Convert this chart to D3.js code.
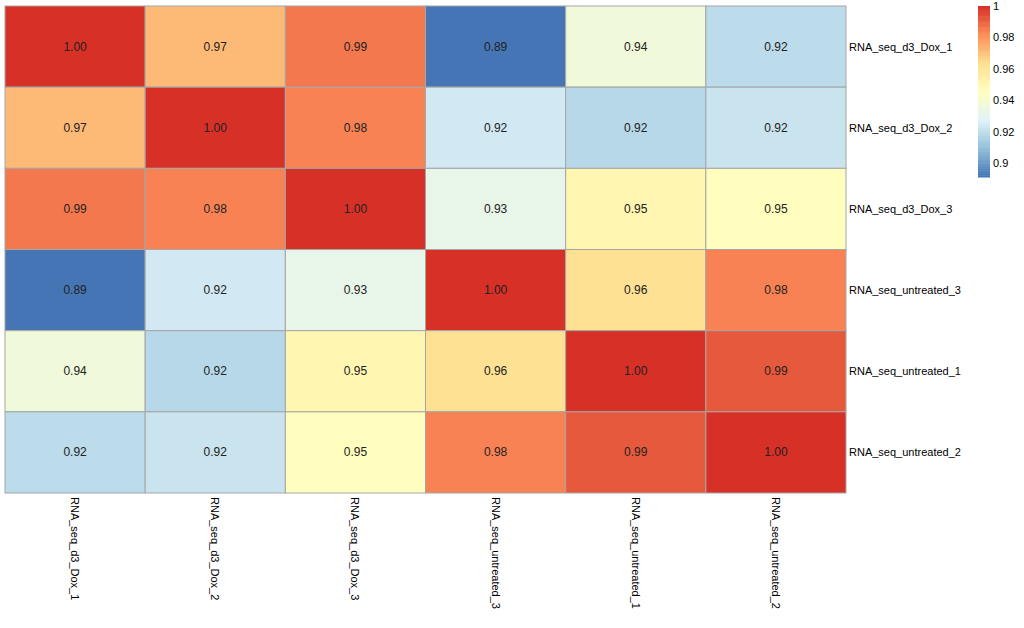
<!DOCTYPE html>
<html><head><meta charset="utf-8">
<script src="https://cdn.jsdelivr.net/npm/d3@7"></script>
<style>body{margin:0;background:#fff}svg{display:block}</style>
</head><body><svg id="c" width="1024" height="628"></svg>
<script>
const samples = ["RNA_seq_d3_Dox_1","RNA_seq_d3_Dox_2","RNA_seq_d3_Dox_3","RNA_seq_untreated_3","RNA_seq_untreated_1","RNA_seq_untreated_2"];
const row1 = [1.000, 0.972, 0.986, 0.891, 0.937, 0.919];
const row2 = [0.972, 1.000, 0.984, 0.924, 0.918, 0.922];
const row3 = [0.986, 0.984, 1.000, 0.932, 0.951, 0.946];
const row4 = [0.891, 0.924, 0.932, 1.000, 0.963, 0.984];
const row5 = [0.937, 0.918, 0.951, 0.963, 1.000, 0.992];
const row6 = [0.919, 0.922, 0.946, 0.984, 0.992, 1.000];
const matrix = [row1,row2,row3,row4,row5,row6];
const legendTicks = [0.9, 0.92, 0.94, 0.96, 0.98, 1];
const palette = ["#4575B4","#91BFDB","#E0F3F8","#FFFFBF","#FEE090","#FC8D59","#D73027"];

const svg = d3.select("#c");
const vmin = d3.min(matrix.flat()), vmax = d3.max(matrix.flat());
const stops = palette.map((_, i) => vmin + (vmax - vmin) * i / (palette.length - 1));
const color = d3.scaleLinear().domain(stops).range(palette).interpolate(d3.interpolateRgb);

const x = d3.scaleBand().domain(samples).range([5, 846]);
const y = d3.scaleBand().domain(samples).range([6, 493]);

const cells = [];
matrix.forEach((r, i) => r.forEach((v, j) => cells.push({row: samples[i], col: samples[j], v})));

const g = svg.append("g");
g.selectAll("rect").data(cells).join("rect")
  .attr("x", d => x(d.col)).attr("y", d => y(d.row))
  .attr("width", x.bandwidth()).attr("height", y.bandwidth())
  .attr("fill", d => color(d.v)).attr("stroke", "#a6a6a6").attr("stroke-width", 1);
g.selectAll("text").data(cells).join("text")
  .attr("x", d => x(d.col) + x.bandwidth()/2).attr("y", d => y(d.row) + y.bandwidth()/2)
  .attr("text-anchor", "middle").attr("dominant-baseline", "central")
  .attr("font-family", "Liberation Sans, Arial, sans-serif").attr("font-size", 12)
  .attr("fill", "#222").text(d => d3.format(".2f")(d.v));

// row labels
svg.append("g").selectAll("text").data(samples).join("text")
  .attr("x", 849).attr("y", d => y(d) + y.bandwidth()/2)
  .attr("dominant-baseline", "central")
  .attr("font-family", "Liberation Sans, Arial, sans-serif").attr("font-size", 11)
  .attr("fill", "#000").text(d => d);

// column labels
svg.append("g").selectAll("text").data(samples).join("text")
  .attr("transform", d => `translate(${x(d) + x.bandwidth()/2},497) rotate(90)`)
  .attr("dominant-baseline", "central")
  .attr("font-family", "Liberation Sans, Arial, sans-serif").attr("font-size", 11)
  .attr("fill", "#000").text(d => d);

// legend
const ly = d3.scaleLinear().domain([vmin, vmax]).range([177, 6]);
const nSteps = 100;
const legVals = d3.range(nSteps).map(i => vmin + (vmax - vmin) * i / nSteps);
const step = (vmax - vmin) / nSteps;
svg.append("g").selectAll("rect").data(legVals).join("rect")
  .attr("x", 978).attr("width", 12)
  .attr("y", d => ly(d + step)).attr("height", d => ly(d) - ly(d + step) + 0.5)
  .attr("fill", d => color(d + step/2));
svg.append("g").selectAll("text").data(legendTicks).join("text")
  .attr("x", 993).attr("y", d => ly(d))
  .attr("dominant-baseline", "central")
  .attr("font-family", "Liberation Sans, Arial, sans-serif").attr("font-size", 11)
  .attr("fill", "#000").text(d => d3.format("")(d));
</script></body></html>
